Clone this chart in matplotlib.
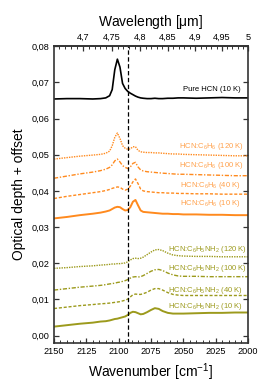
import matplotlib
matplotlib.use("Agg")
import matplotlib.pyplot as plt
from matplotlib.ticker import MultipleLocator, FixedLocator, FixedFormatter, FuncFormatter

plt.rcParams['font.family'] = ['Liberation Sans', 'DejaVu Sans']
plt.rcParams['mathtext.fontset'] = 'custom'
plt.rcParams['mathtext.rm'] = 'Liberation Sans'
plt.rcParams['mathtext.it'] = 'Liberation Sans'
plt.rcParams['mathtext.default'] = 'regular'

# ---------------- data ----------------
wavenumber = [2150, 2140, 2130, 2120, 2114, 2110, 2107, 2105, 2103, 2101, 2099, 2097,
              2095, 2093, 2091, 2089, 2087, 2085, 2083, 2081, 2078, 2075, 2072, 2069,
              2066, 2062, 2058, 2054, 2050, 2040, 2030, 2020, 2010, 2000]

pure_hcn_10K = [0.0654, 0.0655, 0.0655, 0.0654, 0.0655, 0.0657, 0.0663, 0.0680, 0.0735, 0.0764,
                0.0742, 0.0697, 0.0683, 0.0675, 0.0670, 0.0666, 0.0662, 0.0659, 0.0657, 0.0656,
                0.0655, 0.0655, 0.0656, 0.0655, 0.0655, 0.0656, 0.0656, 0.0657, 0.0657, 0.0656,
                0.0657, 0.0658, 0.0657, 0.0657]

c6h6_120K = [0.0488, 0.0492, 0.0496, 0.0499, 0.0501, 0.0504, 0.0510, 0.0525, 0.0548, 0.0560,
             0.0545, 0.0525, 0.0518, 0.0515, 0.0516, 0.0522, 0.0522, 0.0512, 0.0508, 0.0507,
             0.0506, 0.0506, 0.0505, 0.0505, 0.0504, 0.0503, 0.0502, 0.0502, 0.0501, 0.0500,
             0.0499, 0.0498, 0.0497, 0.0497]
c6h6_100K = [0.0435, 0.0441, 0.0447, 0.0452, 0.0456, 0.0460, 0.0465, 0.0472, 0.0483, 0.0488,
             0.0480, 0.0470, 0.0465, 0.0462, 0.0466, 0.0476, 0.0479, 0.0466, 0.0458, 0.0455,
             0.0453, 0.0452, 0.0451, 0.0450, 0.0449, 0.0448, 0.0447, 0.0446, 0.0446, 0.0445,
             0.0444, 0.0443, 0.0442, 0.0442]
c6h6_40K = [0.0379, 0.0385, 0.0390, 0.0395, 0.0398, 0.0401, 0.0404, 0.0407, 0.0409, 0.0411,
            0.0410, 0.0405, 0.0402, 0.0405, 0.0413, 0.0425, 0.0433, 0.0420, 0.0405, 0.0400,
            0.0398, 0.0397, 0.0396, 0.0395, 0.0395, 0.0394, 0.0394, 0.0393, 0.0393, 0.0392,
            0.0392, 0.0391, 0.0391, 0.0391]
c6h6_10K = [0.0324, 0.0328, 0.0333, 0.0337, 0.0340, 0.0343, 0.0346, 0.0350, 0.0354, 0.0356,
            0.0355, 0.0350, 0.0346, 0.0347, 0.0355, 0.0370, 0.0375, 0.0360, 0.0346, 0.0342,
            0.0341, 0.0340, 0.0339, 0.0338, 0.0337, 0.0337, 0.0336, 0.0336, 0.0335, 0.0335,
            0.0334, 0.0334, 0.0333, 0.0333]

aniline_120K = [0.0186, 0.0188, 0.0191, 0.0193, 0.0195, 0.0196, 0.0197, 0.0198, 0.0198, 0.0199,
                0.0199, 0.0200, 0.0201, 0.0204, 0.0209, 0.0213, 0.0214, 0.0213, 0.0214, 0.0217,
                0.0224, 0.0231, 0.0237, 0.0238, 0.0235, 0.0228, 0.0223, 0.0221, 0.0220, 0.0219,
                0.0219, 0.0218, 0.0218, 0.0218]
aniline_100K = [0.0126, 0.0130, 0.0134, 0.0137, 0.0139, 0.0141, 0.0143, 0.0144, 0.0145, 0.0147,
                0.0148, 0.0150, 0.0152, 0.0155, 0.0159, 0.0162, 0.0163, 0.0162, 0.0163, 0.0166,
                0.0172, 0.0178, 0.0182, 0.0183, 0.0180, 0.0173, 0.0168, 0.0165, 0.0164, 0.0164,
                0.0163, 0.0163, 0.0163, 0.0163]
aniline_40K = [0.0075, 0.0079, 0.0083, 0.0086, 0.0088, 0.0089, 0.0090, 0.0091, 0.0092, 0.0093,
               0.0094, 0.0096, 0.0098, 0.0101, 0.0107, 0.0113, 0.0115, 0.0114, 0.0114, 0.0116,
               0.0120, 0.0126, 0.0130, 0.0130, 0.0126, 0.0119, 0.0114, 0.0112, 0.0111, 0.0111,
               0.0111, 0.0111, 0.0111, 0.0111]
aniline_10K = [0.0025, 0.0029, 0.0033, 0.0036, 0.0039, 0.0040, 0.0042, 0.0044, 0.0046, 0.0047,
               0.0049, 0.0051, 0.0053, 0.0057, 0.0063, 0.0066, 0.0065, 0.0062, 0.0059, 0.0060,
               0.0065, 0.0071, 0.0076, 0.0074, 0.0068, 0.0063, 0.0061, 0.0061, 0.0061, 0.0062,
               0.0063, 0.0063, 0.0064, 0.0064]

hcn_band_position = 2092.5

series_labels = ['Pure HCN (10 K)',
                 'HCN:C$_6$H$_6$ (120 K)', 'HCN:C$_6$H$_6$ (100 K)',
                 'HCN:C$_6$H$_6$ (40 K)', 'HCN:C$_6$H$_6$ (10 K)',
                 'HCN:C$_6$H$_5$NH$_2$ (120 K)', 'HCN:C$_6$H$_5$NH$_2$ (100 K)',
                 'HCN:C$_6$H$_5$NH$_2$ (40 K)', 'HCN:C$_6$H$_5$NH$_2$ (10 K)']

wavelength_ticks = [4.7, 4.75, 4.8, 4.85, 4.9, 4.95, 5.0]
wavelength_labels = ['4,7', '4,75', '4,8', '4,85', '4,9', '4,95', '5']

# ---------------- styles ----------------
black = '#000000'
orange = '#FF8A1E'
orange_txt = '#FFA04A'
olive = '#9C9A1C'
olive_txt = '#9C9A1C'

dotted = (0, (1.0, 0.8))
dashdot = (0, (3, 1.2, 1, 1.2))
dashed = (0, (2.2, 1.3))
solid = '-'

series = [
    (pure_hcn_10K, black, solid, 1.2, black, (2005.5, 0.0681)),
    (c6h6_120K, orange, dotted, 1.0, orange_txt, (2003.0, 0.0522)),
    (c6h6_100K, orange, dashdot, 1.0, orange_txt, (2003.0, 0.0469)),
    (c6h6_40K, orange, dashed, 1.0, orange_txt, (2006.0, 0.0416)),
    (c6h6_10K, orange, solid, 1.4, orange_txt, (2006.0, 0.0364)),
    (aniline_120K, olive, dotted, 1.0, olive_txt, (2001.0, 0.0238)),
    (aniline_100K, olive, dashdot, 1.0, olive_txt, (2001.0, 0.0186)),
    (aniline_40K, olive, dashed, 1.0, olive_txt, (2004.0, 0.0126)),
    (aniline_10K, olive, solid, 1.4, olive_txt, (2004.0, 0.0080)),
]

fig = plt.figure(figsize=(2.61, 3.91), dpi=100)
ax = fig.add_axes([0.207, 0.123, 0.743, 0.759])

for (vals, col, ls, lw, tcol, pos), lab in zip(series, series_labels):
    ax.plot(wavenumber, vals, color=col, linestyle=ls, linewidth=lw)
    ax.text(pos[0], pos[1], lab, color=tcol, fontsize=5.5, ha='right', va='center')

ax.axvline(hcn_band_position, color='black', linestyle=(0, (3.5, 2)), linewidth=0.9)

ax.set_xlim(2150, 2000)
ax.set_ylim(-0.002, 0.08)

ax.xaxis.set_major_locator(MultipleLocator(25))
ax.xaxis.set_minor_locator(MultipleLocator(5))
ax.yaxis.set_major_locator(MultipleLocator(0.01))
ax.yaxis.set_major_formatter(FuncFormatter(lambda v, p: f"{v:.2f}".replace('.', ',').replace('-', '')))

ax.tick_params(axis='both', which='major', direction='in', length=3.5, width=0.9,
               labelsize=6.6, pad=3, color='#333333')
ax.tick_params(axis='x', which='minor', direction='in', length=2, width=0.7, color='#333333')
ax.tick_params(axis='y', which='both', right=True)
ax.tick_params(axis='x', which='both', top=False)

for s in ax.spines.values():
    s.set_linewidth(1.2)
    s.set_color('#333333')

ax.set_xlabel('Wavenumber [cm$^{-1}$]', fontsize=10, labelpad=4)
ax.set_ylabel('Optical depth + offset', fontsize=10, labelpad=4)

sec = ax.secondary_xaxis('top', functions=(lambda x: 1e4 / x, lambda x: 1e4 / x))
sec.xaxis.set_major_locator(FixedLocator(wavelength_ticks))
sec.xaxis.set_major_formatter(FixedFormatter(wavelength_labels))
sec.xaxis.set_minor_locator(MultipleLocator(0.01))
sec.tick_params(axis='x', which='major', direction='in', length=3.5, width=0.9,
                labelsize=6.6, pad=3, color='#333333')
sec.tick_params(axis='x', which='minor', direction='in', length=2, width=0.7, color='#333333')
sec.spines['top'].set_linewidth(1.2)
sec.spines['top'].set_color('#333333')
sec.set_xlabel('Wavelength [$\\mu$m]', fontsize=10, labelpad=5)

fig.savefig('out.png', dpi=100)
